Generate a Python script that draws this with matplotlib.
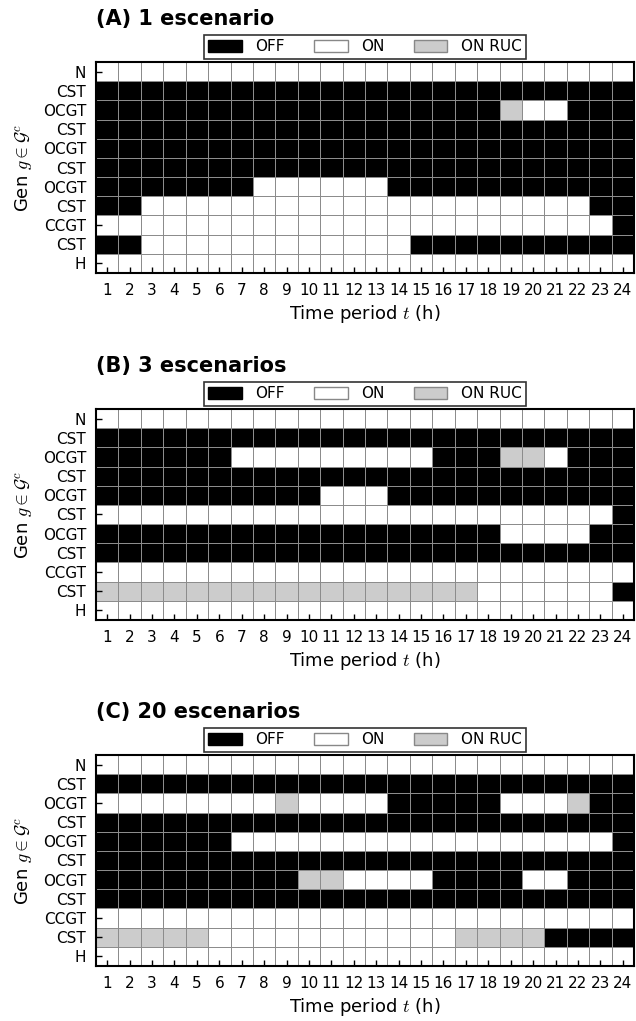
import matplotlib
matplotlib.use('Agg')
import matplotlib.pyplot as plt
import numpy as np
from matplotlib.colors import ListedColormap, BoundaryNorm
from matplotlib.patches import Patch

plt.rcParams['font.family'] = ['DejaVu Sans']
plt.rcParams['mathtext.fontset'] = 'cm'

# 0 = OFF, 1 = ON, 2 = ON RUC
gens = ['N', 'CST', 'OCGT', 'CST', 'OCGT', 'CST', 'OCGT', 'CST', 'CCGT', 'CST', 'H']
hours = list(range(1, 25))
titles = ['(A) 1 escenario', '(B) 3 escenarios', '(C) 20 escenarios']
states = ['OFF', 'ON', 'ON RUC']
state_colors = ['black', 'white', '#cccccc']

def row(*runs):
    # runs of (value, count)
    out = []
    for v, n in runs:
        out += [v] * n
    return out

status_a = [
    row((1, 24)),
    row((0, 24)),
    row((0, 18), (2, 1), (1, 2), (0, 3)),
    row((0, 24)),
    row((0, 24)),
    row((0, 24)),
    row((0, 7), (1, 6), (0, 11)),
    row((0, 2), (1, 20), (0, 2)),
    row((1, 23), (0, 1)),
    row((0, 2), (1, 12), (0, 10)),
    row((1, 24)),
]

status_b = [
    row((1, 24)),
    row((0, 24)),
    row((0, 6), (1, 9), (0, 3), (2, 2), (1, 1), (0, 3)),
    row((0, 24)),
    row((0, 10), (1, 3), (0, 11)),
    row((1, 23), (0, 1)),
    row((0, 18), (1, 4), (0, 2)),
    row((0, 24)),
    row((1, 24)),
    row((2, 17), (1, 6), (0, 1)),
    row((1, 24)),
]

status_c = [
    row((1, 24)),
    row((0, 24)),
    row((1, 8), (2, 1), (1, 4), (0, 5), (1, 3), (2, 1), (0, 2)),
    row((0, 24)),
    row((0, 6), (1, 17), (0, 1)),
    row((0, 24)),
    row((0, 9), (2, 2), (1, 4), (0, 4), (1, 2), (0, 3)),
    row((0, 24)),
    row((1, 24)),
    row((2, 5), (1, 11), (2, 4), (0, 4)),
    row((1, 24)),
]

panels = [status_a, status_b, status_c]

cmap = ListedColormap(state_colors)
norm = BoundaryNorm([-0.5, 0.5, 1.5, 2.5], cmap.N)

fig = plt.figure(figsize=(6.36, 10.21), dpi=100)
H = 1021.0
tops = [62, 409, 755]
ax_h = 211

for k in range(3):
    ax = fig.add_axes([96 / 636, 1 - (tops[k] + ax_h) / H, 538 / 636, ax_h / H])
    z = np.array(panels[k])
    x = np.arange(len(hours) + 1) + 0.5
    y = np.arange(len(gens) + 1) - 0.5
    ax.pcolormesh(x, y, z, cmap=cmap, norm=norm, edgecolors='#8c8c8c', linewidth=0.7)
    ax.set_xlim(0.5, 24.5)
    ax.set_ylim(len(gens) - 0.5, -0.5)
    ax.set_yticks(range(len(gens)))
    ax.set_yticklabels(gens)
    ax.set_xticks(hours)
    ax.tick_params(direction='in', length=4, width=1, labelsize=11, top=False, right=False)
    ax.tick_params(axis='y', pad=7)
    ax.tick_params(axis='x', pad=7)
    for s in ax.spines.values():
        s.set_linewidth(1.5)
    ax.set_xlabel('Time period $t$ (h)', fontsize=13, labelpad=4)
    ax.set_ylabel(r'Gen $g \in \mathcal{G}^c$', fontsize=13)
    ax.yaxis.set_label_coords(-0.115, 0.5)
    ax.annotate(titles[k], xy=(0, 1), xycoords='axes fraction', xytext=(0, 26.5),
                textcoords='offset points', fontsize=15, fontweight='bold', va='baseline', ha='left')
    handles = [Patch(facecolor=state_colors[0], edgecolor='black'),
               Patch(facecolor=state_colors[1], edgecolor='#888888'),
               Patch(facecolor=state_colors[2], edgecolor='#888888')]
    leg = ax.legend(handles, states, loc='lower center', bbox_to_anchor=(0.5, 1.0), ncol=3,
                    fontsize=11, frameon=True, fancybox=False, borderaxespad=0.2,
                    handlelength=2.2, handleheight=0.75, handletextpad=0.9, columnspacing=1.9,
                    borderpad=0.3)
    leg.get_frame().set_edgecolor('black')
    leg.get_frame().set_linewidth(1.2)

fig.savefig('out.png', dpi=100)
